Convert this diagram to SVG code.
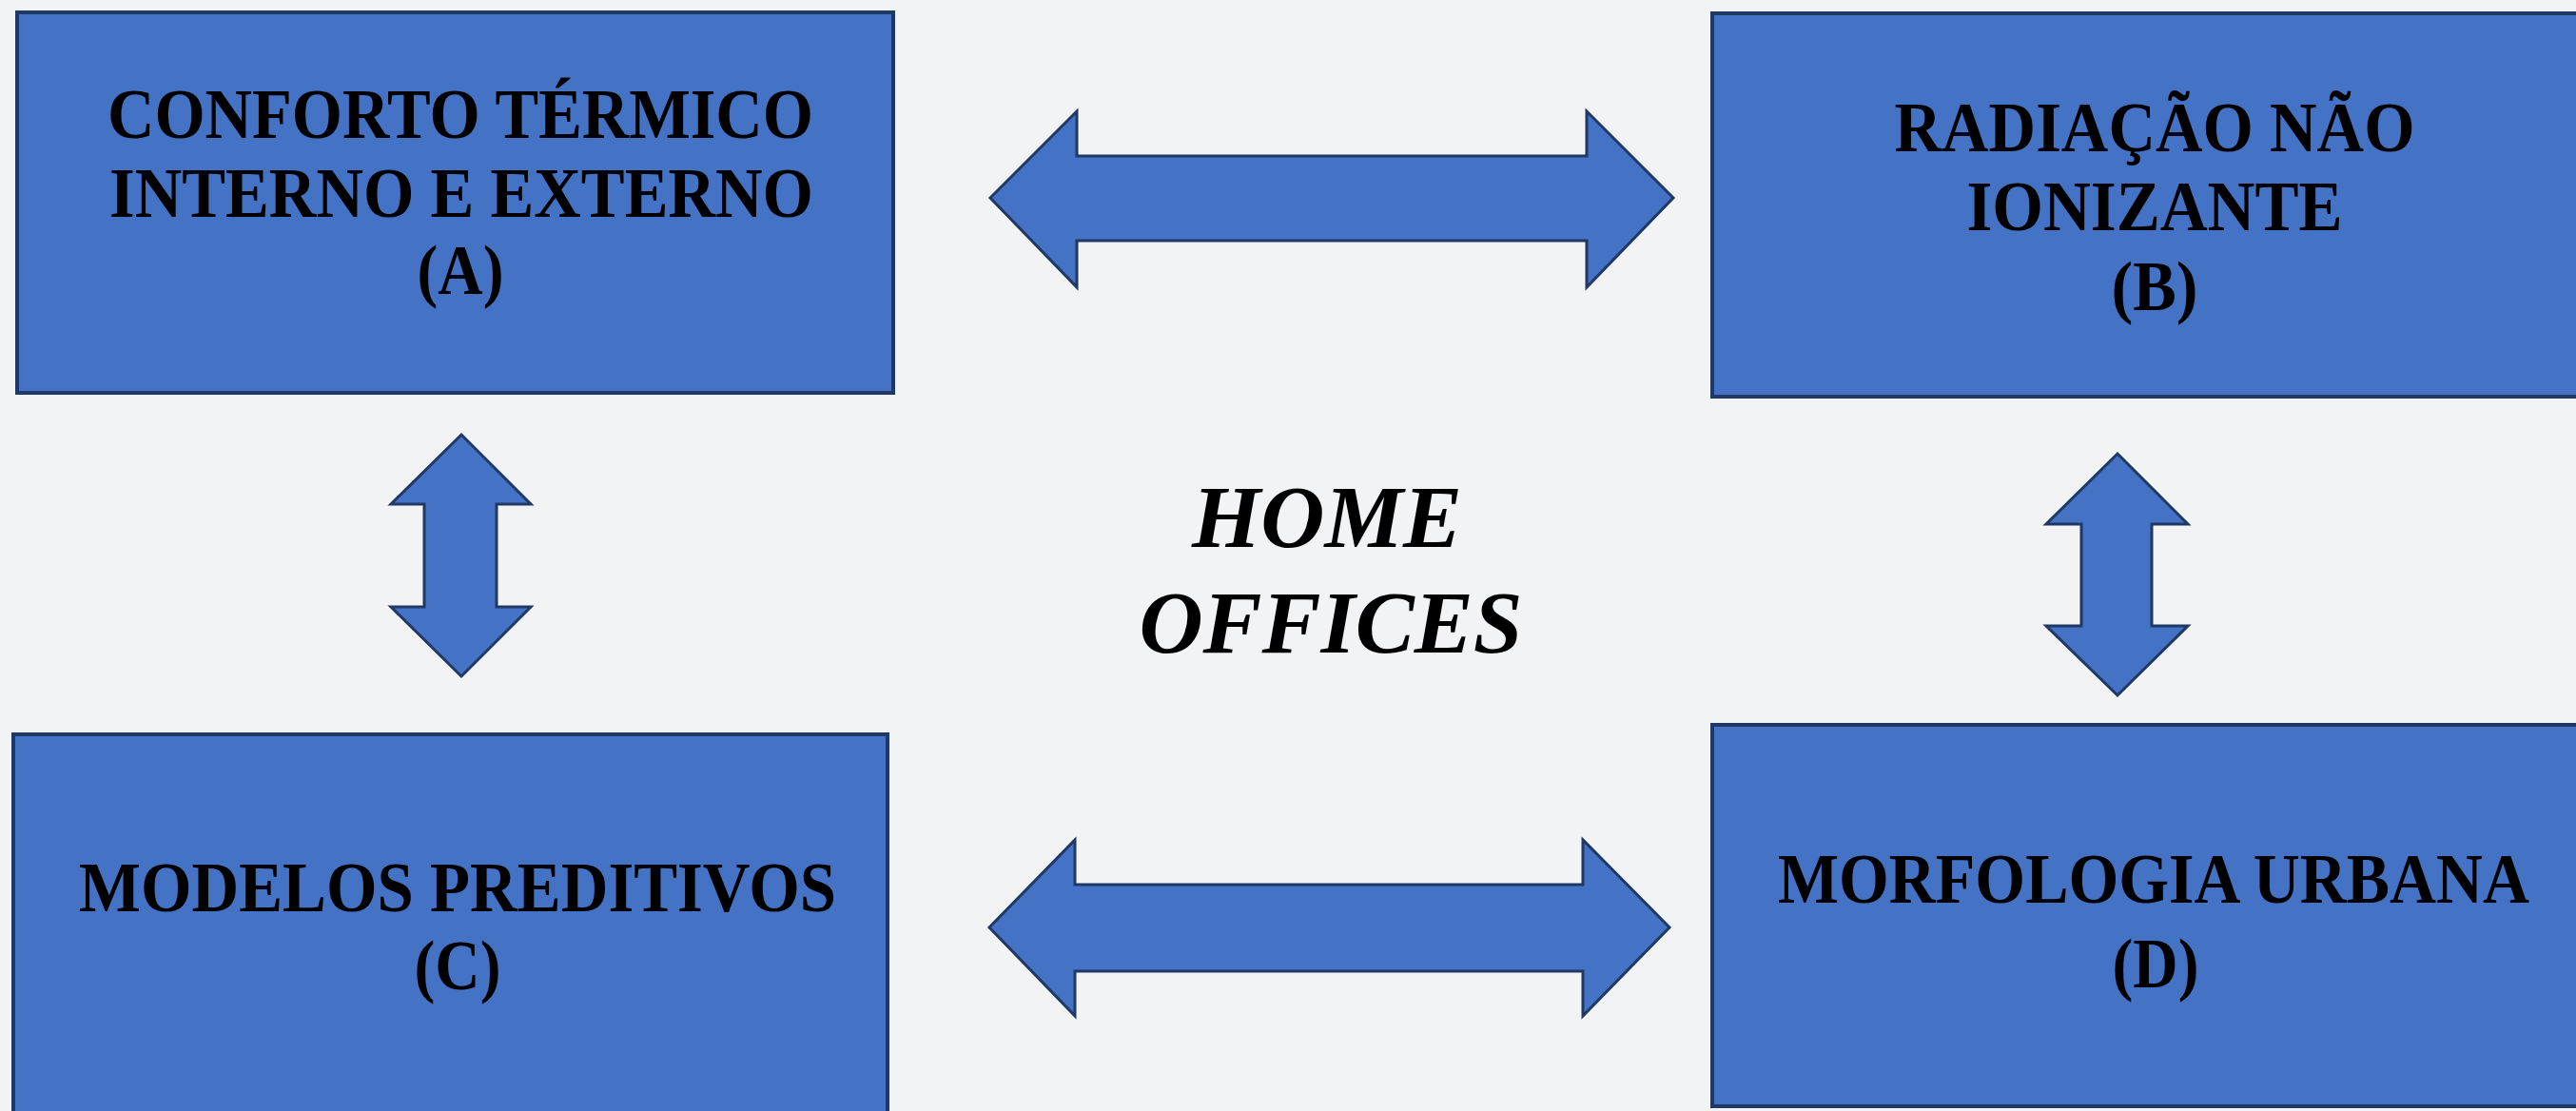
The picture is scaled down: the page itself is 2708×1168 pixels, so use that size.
<svg xmlns="http://www.w3.org/2000/svg" width="2708" height="1168" viewBox="0 0 2708 1168">
<style>
.box{fill:#4472C4;stroke:#1F3864;stroke-width:4}
.arr{fill:#4472C4;stroke:#1F3864;stroke-width:3;stroke-linejoin:miter}
.lbl{font-family:"Liberation Serif","Times New Roman",serif;font-weight:bold;font-size:73px;fill:#000;text-anchor:middle}
.ctr{font-family:"Liberation Serif","Times New Roman",serif;font-weight:bold;font-style:italic;font-size:93px;fill:#000;text-anchor:middle}
</style>
<rect x="0" y="0" width="2708" height="1168" fill="#F2F3F5"/>
<g id="connectors">
<polygon class="arr" points="1041,208 1132,117 1132,164 1668,164 1668,117 1759,208 1668,302 1668,253 1132,253 1132,302"/>
<polygon class="arr" points="1040,975 1130,883 1130,930 1664,930 1664,883 1755,975 1664,1068 1664,1021 1130,1021 1130,1068"/>
<polygon class="arr" points="485,457 558,530 522,530 522,638 558,638 485,711 411,638 446,638 446,530 411,530"/>
<polygon class="arr" points="2226,477 2300,551 2262,551 2262,658 2300,658 2226,731 2151,658 2188,658 2188,551 2151,551"/>
</g>
<g id="nodeA">
<rect class="box" x="18" y="13" width="921" height="400"/>
<text class="lbl" x="484" y="145" textLength="742" lengthAdjust="spacingAndGlyphs">CONFORTO TÉRMICO</text>
<text class="lbl" x="485" y="228" textLength="740" lengthAdjust="spacingAndGlyphs">INTERNO E EXTERNO</text>
<text class="lbl" x="484" y="309" textLength="91" lengthAdjust="spacingAndGlyphs">(A)</text>
</g>
<g id="nodeB">
<rect class="box" x="1800" y="14" width="912" height="403"/>
<text class="lbl" x="2265" y="159" textLength="547" lengthAdjust="spacingAndGlyphs">RADIAÇÃO NÃO</text>
<text class="lbl" x="2265" y="242" textLength="395" lengthAdjust="spacingAndGlyphs">IONIZANTE</text>
<text class="lbl" x="2265" y="326" textLength="91" lengthAdjust="spacingAndGlyphs">(B)</text>
</g>
<g id="nodeC">
<rect class="box" x="14" y="772" width="919" height="400"/>
<text class="lbl" x="481" y="958" textLength="796" lengthAdjust="spacingAndGlyphs">MODELOS PREDITIVOS</text>
<text class="lbl" x="481" y="1040" textLength="91" lengthAdjust="spacingAndGlyphs">(C)</text>
</g>
<g id="nodeD">
<rect class="box" x="1800" y="762" width="912" height="401"/>
<text class="lbl" x="2264" y="949" textLength="790" lengthAdjust="spacingAndGlyphs">MORFOLOGIA URBANA</text>
<text class="lbl" x="2266" y="1038" textLength="91" lengthAdjust="spacingAndGlyphs">(D)</text>
</g>
<g id="center">
<text class="ctr" x="1395" y="575">HOME</text>
<text class="ctr" x="1399" y="686">OFFICES</text>
</g>
</svg>
